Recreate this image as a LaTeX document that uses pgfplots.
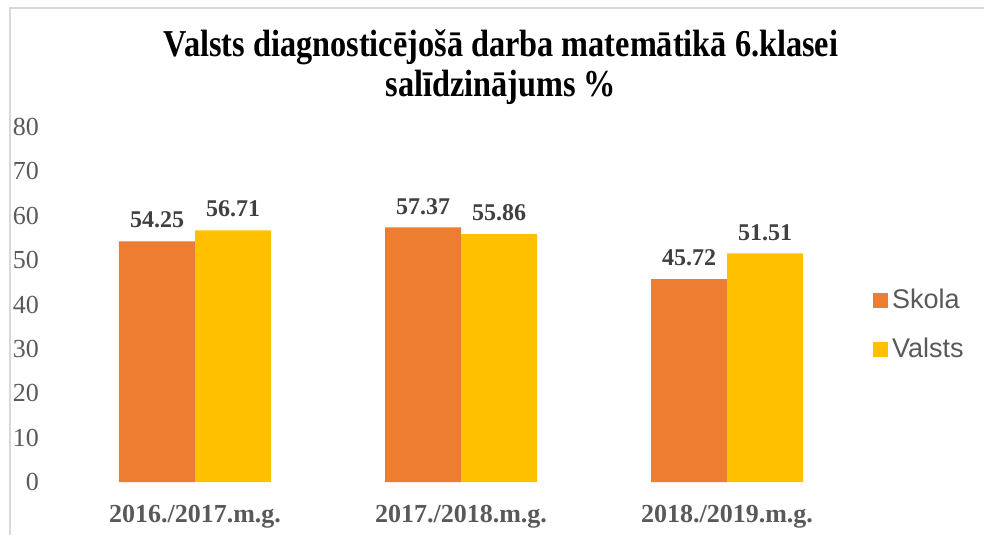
\documentclass[border=0pt]{standalone}
\usepackage{fontspec}
\setmainfont{Liberation Serif}
\newfontfamily\arialfont{Liberation Sans}
\newfontfamily\titlefont[FakeStretch=0.85]{Liberation Serif}
\usepackage{pgfplots}
\pgfplotsset{compat=1.18}
\definecolor{skola}{HTML}{ED7D31}
\definecolor{valsts}{HTML}{FFC000}
\definecolor{txtgray}{HTML}{595959}
\definecolor{lblgray}{HTML}{404040}
\definecolor{framegray}{HTML}{D9D9D9}

\begin{document}
\begin{tikzpicture}
\begin{axis}[
    scale only axis,
    width=399pt, height=177.5pt,
    xmin=-0.5, xmax=2.5,
    ymin=0, ymax=80,
    ytick={0,10,...,80},
    xtick={0,1,2},
    xticklabels={2016./2017.m.g., 2017./2018.m.g., 2018./2019.m.g.},
    axis line style={draw=none},
    major tick length=0pt,
    /pgf/number format/assume math mode=true,
    ybar=0pt, bar width=38pt,
    yticklabel style={font=\fontsize{13}{15}\selectfont, text=txtgray, xshift=-8pt},
    xticklabel style={font=\bfseries\fontsize{13}{15}\selectfont, text=txtgray, yshift=-8pt},
    nodes near coords={\pgfmathprintnumber[fixed,precision=2,fixed zerofill]{\pgfplotspointmeta}},
    every node near coord/.append style={font=\bfseries\fontsize{12}{14}\selectfont, text=lblgray, anchor=south, yshift=3pt},
    legend style={draw=none, fill=none, at={(1.016,0.555)}, anchor=north west,
        font=\arialfont\fontsize{13.5}{15}\selectfont, text=txtgray,
        row sep=9pt, inner sep=0pt},
    legend cell align=left,
    legend image code/.code={\fill[#1,draw=none] (0pt,-3.75pt) rectangle (7.5pt,3.75pt);},
]
\addplot[fill=skola, draw=none] coordinates {(0,54.25) (1,57.37) (2,45.72)};
\addlegendentry{Skola}
\addplot[fill=valsts, draw=none] coordinates {(0,56.71) (1,55.86) (2,51.51)};
\addlegendentry{Valsts}
\coordinate (O) at (rel axis cs:0,0);
\end{axis}
\pgfresetboundingbox
\path[use as bounding box] ([shift={(-31pt,-26.5pt)}]O) rectangle ++(492pt,267.5pt);
\draw[framegray, line width=1pt] ([shift={(-26pt,-26.5pt)}]O) -- ++(0,263.5pt) -- ++(487pt,0);
\node[font=\titlefont\bfseries\fontsize{19}{20}\selectfont, align=center]
  at ([shift={(219.5pt,207.5pt)}]O)
  {Valsts diagnosticējošā darba matemātikā 6.klasei\\salīdzinājums \%};
\end{tikzpicture}
\end{document}
